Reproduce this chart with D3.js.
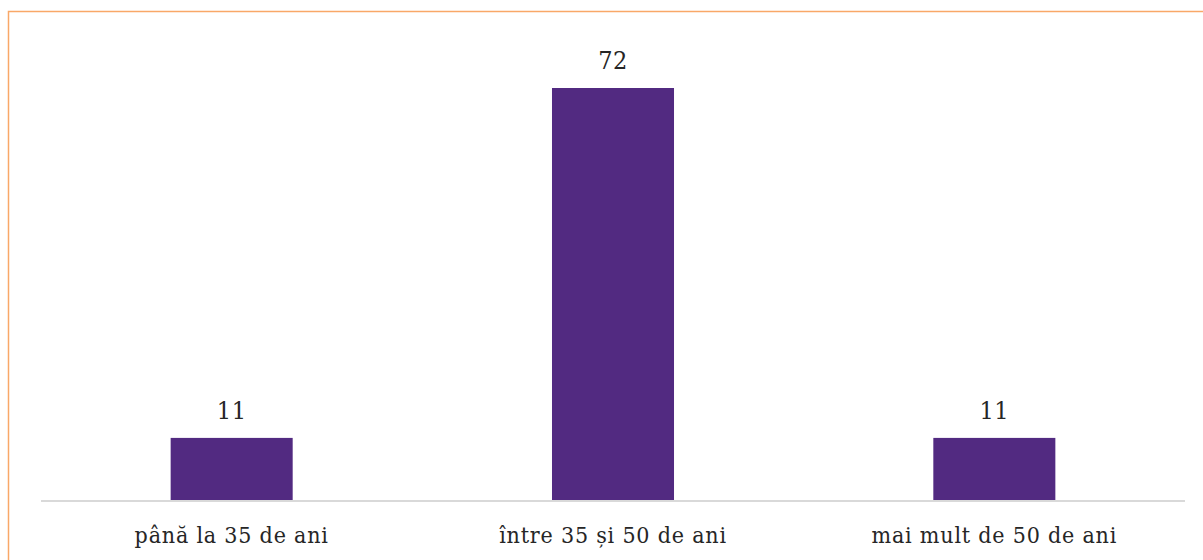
<!DOCTYPE html>
<html><head><meta charset="utf-8">
<script src="https://cdn.jsdelivr.net/npm/d3@7"></script>
<style>body{margin:0;background:#fff}svg{display:block}</style>
</head><body>
<script>
const categories = ["până la 35 de ani", "între 35 și 50 de ani", "mai mult de 50 de ani"];
const values = [11, 72, 11];

const W = 1203, H = 560;
const svg = d3.select("body").append("svg").attr("width", W).attr("height", H);
const FONT = "'DejaVu Serif Condensed', 'DejaVu Serif', serif";

svg.append("rect").attr("x", 8.5).attr("y", 11.5).attr("width", 1210).attr("height", 570)
  .attr("fill", "none").attr("stroke", "#F9A868").attr("stroke-width", 1.5);

const x = d3.scaleBand().domain(categories).range([41, 1185]).paddingInner(0.68).paddingOuter(0.34);
const y = d3.scaleLinear().domain([0, 72]).range([501, 88]);

svg.selectAll("rect.bar").data(values).join("rect").attr("class", "bar")
  .attr("x", (d, i) => x(categories[i])).attr("width", x.bandwidth())
  .attr("y", d => y(d)).attr("height", d => y(0) - y(d))
  .attr("fill", "#522A81");

const axis = svg.append("g").attr("transform", `translate(0,${y(0)})`)
  .call(d3.axisBottom(x).tickSize(0).tickPadding(0));
axis.select(".domain").attr("stroke", "#D9D9D9").attr("stroke-width", 2).attr("d", "M41,0H1185");
axis.selectAll("text").attr("dy", 0).attr("y", 42)
  .attr("font-family", FONT).attr("font-size", 23).attr("letter-spacing", 0.8).attr("fill", "#262626");

svg.selectAll("text.val").data(values).join("text").attr("class", "val")
  .attr("x", (d, i) => x(categories[i]) + x.bandwidth() / 2)
  .attr("y", d => y(d) - 19)
  .attr("text-anchor", "middle")
  .attr("font-family", FONT).attr("font-size", 25).attr("letter-spacing", 0.5).attr("fill", "#262626")
  .text(d => d);
</script>
</body></html>
